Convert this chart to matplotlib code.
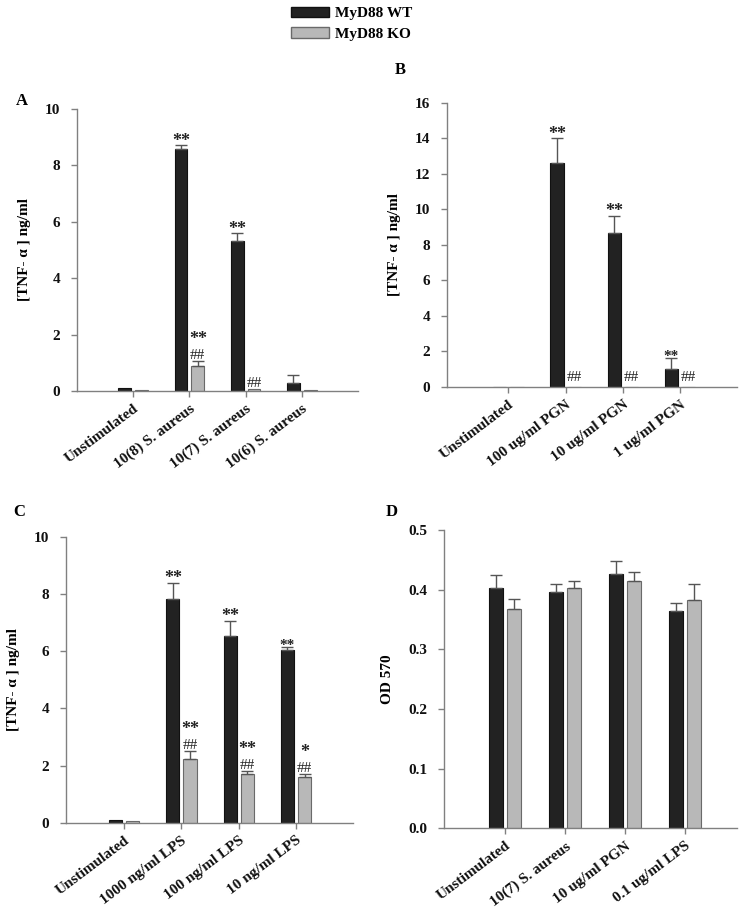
import matplotlib
matplotlib.use("Agg")
import matplotlib.pyplot as plt
from matplotlib.patches import Patch
import numpy as np

plt.rcParams['font.family'] = ['Liberation Serif', 'DejaVu Serif']
plt.rcParams['font.weight'] = 'bold'

# ---------------- data ----------------
series = ["MyD88 WT", "MyD88 KO"]

cats_a = ["Unstimulated", "10(8) S. aureus", "10(7) S. aureus", "10(6) S. aureus"]
wt_a = [0.09, 8.59, 5.31, 0.27]
wt_a_err = [0.0, 0.12, 0.28, 0.29]
ko_a = [0.05, 0.90, 0.08, 0.02]
ko_a_err = [0.0, 0.17, 0.0, 0.0]

cats_b = ["Unstimulated", "100 ug/ml PGN", "10 ug/ml PGN", "1 ug/ml PGN"]
wt_b = [0.0, 12.62, 8.69, 1.01]
wt_b_err = [0.0, 1.37, 0.94, 0.60]
ko_b = [0.0, 0.0, 0.0, 0.0]
ko_b_err = [0.0, 0.0, 0.0, 0.0]

cats_c = ["Unstimulated", "1000 ng/ml LPS", "100 ng/ml LPS", "10 ng/ml LPS"]
wt_c = [0.09, 7.81, 6.53, 6.03]
wt_c_err = [0.0, 0.56, 0.53, 0.10]
ko_c = [0.06, 2.23, 1.70, 1.59]
ko_c_err = [0.0, 0.29, 0.12, 0.12]

cats_d = ["Unstimulated", "10(7) S. aureus", "10 ug/ml PGN", "0.1 ug/ml LPS"]
wt_d = [0.403, 0.396, 0.426, 0.364]
wt_d_err = [0.022, 0.014, 0.022, 0.013]
ko_d = [0.367, 0.402, 0.414, 0.383]
ko_d_err = [0.018, 0.012, 0.015, 0.027]

# annotations: (category index, series index, texts bottom->top, star size)
ann_a = [(1, 0, ["**"], 13), (2, 0, ["**"], 13), (1, 1, ["##", "**"], 13), (2, 1, ["##"], 13)]
ann_b = [(1, 0, ["**"], 13), (2, 0, ["**"], 13), (3, 0, ["**"], 11),
         (1, 1, ["##"], 13), (2, 1, ["##"], 13), (3, 1, ["##"], 13)]
ann_c = [(1, 0, ["**"], 13), (2, 0, ["**"], 13), (3, 0, ["**"], 11),
         (1, 1, ["##", "**"], 13), (2, 1, ["##", "**"], 13), (3, 1, ["##", "*"], 13)]
ann_d = []

# ---------------- style ----------------
WT_COLOR = "#222222"
WT_EDGE = "#111111"
KO_COLOR = "#b8b8b8"
KO_EDGE = "#6a6a6a"
AXIS_COLOR = "#808080"
ERR_COLOR = "#555555"
BAR_W = 0.23
OFF = 0.15

fig = plt.figure(figsize=(7.5, 9.11), dpi=100)

panels = [
    ("A", [0.1027, 0.5708, 0.3746, 0.3096], cats_a, wt_a, wt_a_err, ko_a, ko_a_err, ann_a,
     (0, 10), np.arange(0, 11, 2), (-1.0, 4.0), "[TNF- α ] ng/ml", (16 / 750, 1 - 101 / 911), "{:.0f}"),
    ("B", [0.5956, 0.5752, 0.3867, 0.3121], cats_b, wt_b, wt_b_err, ko_b, ko_b_err, ann_b,
     (0, 16), np.arange(0, 17, 2), (-1.077, 3.99), "[TNF- α ] ng/ml", (395 / 750, 1 - 70 / 911), "{:.0f}"),
    ("C", [0.0876, 0.0969, 0.3827, 0.3140], cats_c, wt_c, wt_c_err, ko_c, ko_c_err, ann_c,
     (0, 10), np.arange(0, 11, 2), (-1.02, 3.99), "[TNF- α ] ng/ml", (13 / 750, 1 - 512 / 911), "{:.0f}"),
    ("D", [0.5920, 0.0908, 0.3903, 0.3274], cats_d, wt_d, wt_d_err, ko_d, ko_d_err, ann_d,
     (0, 0.5), np.arange(0, 0.51, 0.1), (-1.017, 3.86), "OD 570", (386 / 750, 1 - 512 / 911), "{:.1f}"),
]

for (lab, rect, cats, wt, wte, ko, koe, anns, ylim, yticks, xlim, ylabel, labpos, fmt) in panels:
    ax = fig.add_axes(rect)
    x = np.arange(len(cats))
    ax.bar(x - OFF, wt, BAR_W, color=WT_COLOR, edgecolor=WT_EDGE, linewidth=0.8, zorder=2)
    ax.bar(x + OFF, ko, BAR_W, color=KO_COLOR, edgecolor=KO_EDGE, linewidth=0.8, zorder=2)
    for xs, vals, errs in ((x - OFF, wt, wte), (x + OFF, ko, koe)):
        for xi, v, e in zip(xs, vals, errs):
            if e > 0:
                ax.errorbar(xi, v, yerr=[[0], [e]], fmt='none', ecolor=ERR_COLOR,
                            elinewidth=1.0, capsize=4, capthick=1.0, zorder=3)
    for ci, si, texts, size in anns:
        xi = x[ci] + (OFF if si == 1 else -OFF)
        vals, errs = (wt, wte) if si == 0 else (ko, koe)
        top = vals[ci] + errs[ci]
        off = -1
        for t in texts:
            if t.startswith("#"):
                if lab == "B":
                    ax.annotate(t, xy=(xi, 0), xytext=(0, 2), textcoords='offset points',
                                ha='center', va='bottom', fontsize=11, fontweight='normal', color='#222222')
                else:
                    ax.annotate(t, xy=(xi, top), xytext=(0, off), textcoords='offset points',
                                ha='center', va='bottom', fontsize=11, fontweight='normal', color='#222222')
                off += 12
            else:
                ax.annotate(t, xy=(xi, top), xytext=(0, off - 2), textcoords='offset points',
                            ha='center', va='bottom', fontsize=size, fontweight='bold', color='#222222')
    ax.set_xlim(*xlim)
    ax.set_ylim(*ylim)
    ax.set_yticks(yticks)
    ax.set_yticklabels([fmt.format(v) for v in yticks])
    ax.set_xticks(x)
    ax.set_xticklabels(cats, rotation=37, ha='right', rotation_mode='anchor')
    for s in ("top", "right"):
        ax.spines[s].set_visible(False)
    for s in ("left", "bottom"):
        ax.spines[s].set_color(AXIS_COLOR)
        ax.spines[s].set_linewidth(1.0)
    ax.tick_params(axis='both', colors='#111111', labelsize=11, length=4, width=1.0, direction='out')
    ax.tick_params(axis='both', color=AXIS_COLOR)
    ax.tick_params(axis='y', pad=8)
    ax.tick_params(axis='x', pad=4)
    for tl in ax.get_xticklabels() + ax.get_yticklabels():
        tl.set_fontweight('bold')
    ax.set_ylabel(ylabel, fontsize=11, fontweight='bold', labelpad=10)
    fig.text(labpos[0], labpos[1], lab, fontsize=12, fontweight='bold', ha='left', va='center')

handles = [Patch(facecolor=WT_COLOR, edgecolor=WT_EDGE, label=series[0]),
           Patch(facecolor=KO_COLOR, edgecolor=KO_EDGE, label=series[1])]
fig.legend(handles=handles, loc='upper left', bbox_to_anchor=(280 / 750, 1 + 4 / 911),
           frameon=False, fontsize=11, handlelength=2.5, handleheight=0.7,
           handletextpad=0.4, labelspacing=0.45, borderpad=0.2)

fig.savefig("out.png", dpi=100)
